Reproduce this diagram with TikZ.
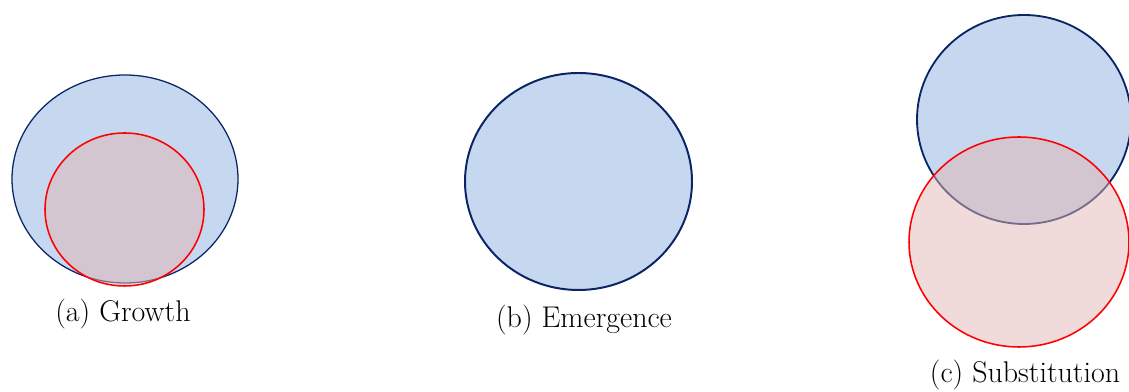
\documentclass[tikz,border=0pt]{standalone}
\usepackage{tikz}
\definecolor{conjAzulRelleno}{HTML}{C5D8EF}
\definecolor{conjAzulBorde}{HTML}{0A2466}
\definecolor{conjRojoRelleno}{HTML}{E3B5B5}
\definecolor{conjRojoBorde}{HTML}{FF0000}
\tikzset{
    conjViejo/.style={fill=conjAzulRelleno, draw=conjAzulBorde},
    conjNuevo/.style={fill=conjRojoRelleno, fill opacity=0.5, draw=conjRojoBorde, line width=1.1pt},
    rotulo/.style={anchor=base, font=\fontsize{21.3}{25}\selectfont}
}
\begin{document}
\begin{tikzpicture}[x=0.025cm, y=0.025cm]
    \useasboundingbox (0,0) rectangle (1129,392);

    % (a) Crecimiento
    \draw[conjViejo, line width=0.9pt] (125,213) ellipse [x radius=113, y radius=104];
    \draw[conjNuevo] (124.5,182.5) ellipse [x radius=79.5, y radius=76.5];
    \node[rotulo] (rotCrec) at (123,70) {(a) Growth};

    % (b) Emergencia
    \draw[conjViejo, line width=1.4pt] (578.5,210.5) ellipse [x radius=113.5, y radius=108.5];
    \node[rotulo] (rotEmer) at (584,64) {(b) Emergence};

    % (c) Sustitucion
    \draw[conjViejo, line width=1.3pt] (1024,272.5) ellipse [x radius=107, y radius=104.5];
    \draw[conjNuevo] (1019,150) ellipse [x radius=110, y radius=105];
    \node[rotulo] (rotSust) at (1025,9) {(c) Substitution};
\end{tikzpicture}
\end{document}
